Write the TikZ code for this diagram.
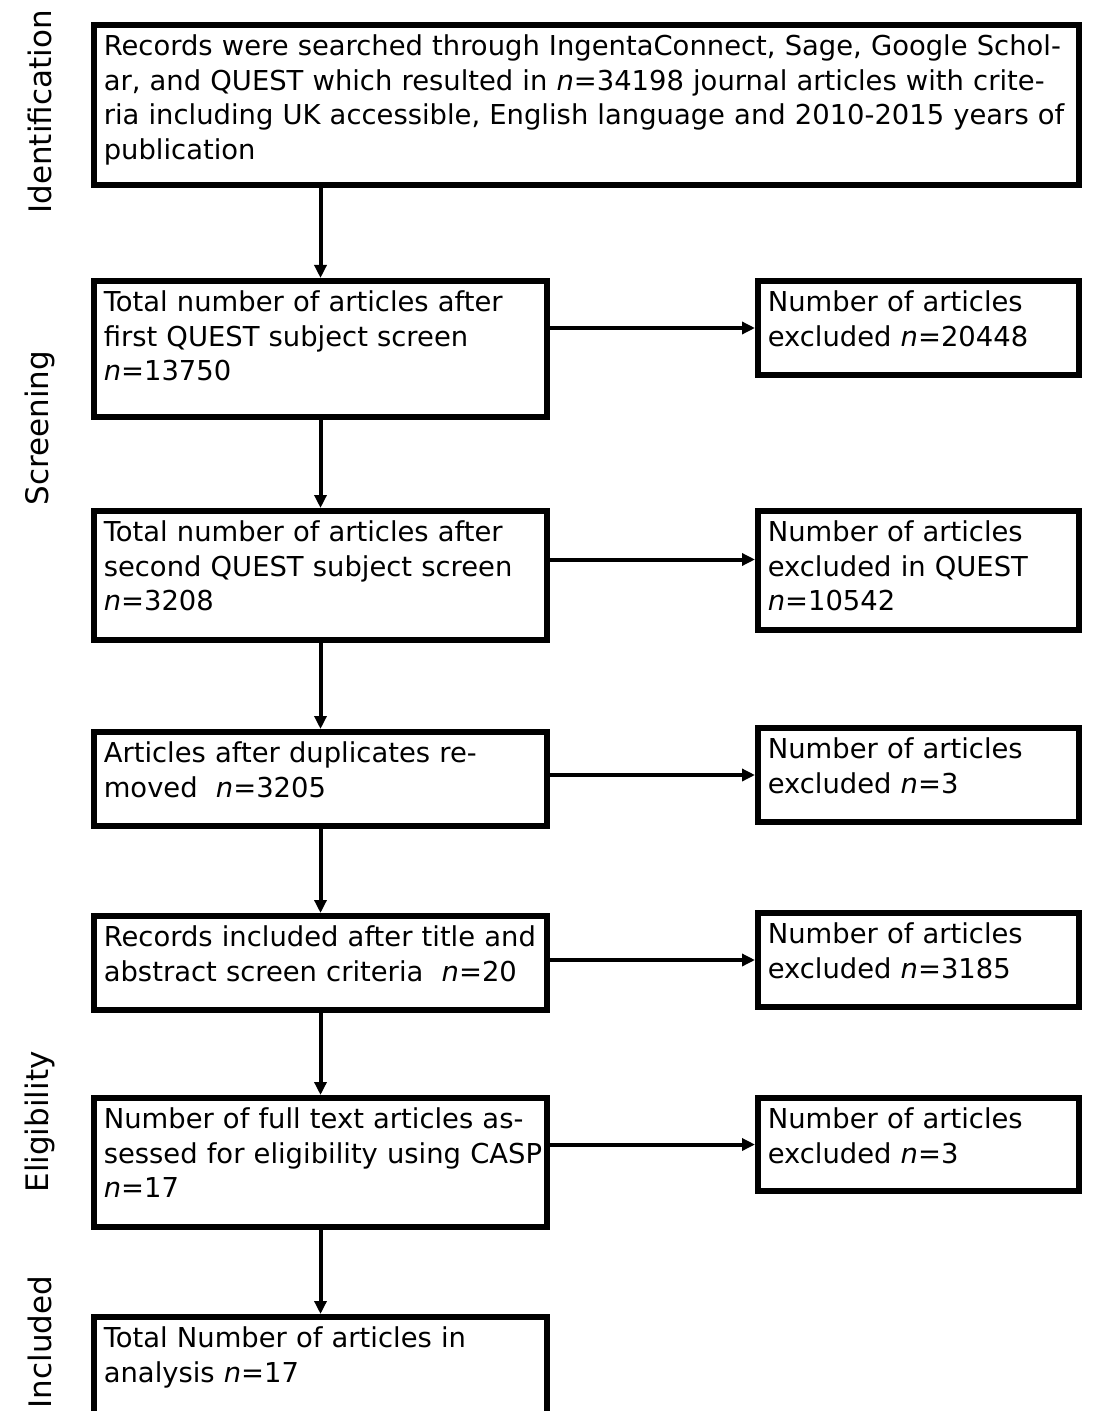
\documentclass[tikz,border=0pt]{standalone}
\usepackage{fontspec}
\setmainfont{DejaVu Sans}
\usetikzlibrary{arrows.meta}

\begin{document}
\begin{tikzpicture}[x=0.5pt, y=-0.5pt,
  box/.style={draw=black, line width=2.8pt, anchor=north west, align=left,
    inner xsep=5pt, inner ysep=0pt, text height=15.5pt,
    font=\fontsize{13.7}{17.25}\selectfont},
  wbox/.style={box, text width=482.7pt},
  lbox/.style={box, text width=216.7pt},
  rbox/.style={box, text width=150.7pt},
  arr/.style={line width=2pt, -{Triangle[length=6.5pt, width=6pt]}},
  phase/.style={rotate=90, font=\fontsize{15.5}{18}\selectfont}]
\useasboundingbox (0,0) rectangle (1094,1411);

\node[phase] (P1) at (40, 112) {Identification};
\node[phase] (P2) at (40, 428) {Screening};
\node[phase] (P3) at (40, 1122) {Eligibility};
\node[phase] (P4) at (40, 1342) {Included};

\node[wbox, text depth=64.7pt] (B1) at (91, 22) {Records were searched through IngentaConnect, Sage, Google Schol-\\ar, and QUEST which resulted in \textit{n}=34198 journal articles with crite-\\ria including UK accessible, English language and 2010-2015 years of\\publication};

\node[lbox, text depth=52.7pt] (L2) at (91, 278) {Total number of articles after\\first QUEST subject screen\\\textit{n}=13750};
\node[rbox, text depth=31.7pt] (R2) at (755, 278) {Number of articles\\excluded \textit{n}=20448};

\node[lbox, text depth=49.2pt] (L3) at (91, 508) {Total number of articles after\\second QUEST subject screen\\\textit{n}=3208};
\node[rbox, text depth=44.2pt] (R3) at (755, 508) {Number of articles\\excluded in QUEST\\\textit{n}=10542};

\node[lbox, text depth=31.7pt] (L4) at (91, 729) {Articles after duplicates re-\\moved~~\textit{n}=3205};
\node[rbox, text depth=31.7pt] (R4) at (755, 725) {Number of articles\\excluded \textit{n}=3};

\node[lbox, text depth=31.7pt] (L5) at (91, 913) {Records included after title and\\abstract screen criteria~~\textit{n}=20};
\node[rbox, text depth=31.7pt] (R5) at (755, 910) {Number of articles\\excluded \textit{n}=3185};

\node[lbox, text depth=49.2pt] (L6) at (91, 1095) {Number of full text articles as-\\\mbox{sessed for eligibility using CASP}\\\textit{n}=17};
\node[rbox, text depth=31.2pt] (R6) at (755, 1095) {Number of articles\\excluded \textit{n}=3};

\node[lbox, text depth=49.7pt] (L7) at (91, 1314) {Total Number of articles in\\analysis \textit{n}=17};

\draw[arr] (B1.south -| L2.north) -- (L2.north);
\draw[arr] (L2.south) -- (L3.north);
\draw[arr] (L3.south) -- (L4.north);
\draw[arr] (L4.south) -- (L5.north);
\draw[arr] (L5.south) -- (L6.north);
\draw[arr] (L6.south) -- (L7.north);

\draw[arr] (L2.east |- R2.west) -- (R2.west);
\draw[arr] ([yshift=5.5pt]L3.east |- R3.west) -- ([yshift=5.5pt]R3.west);
\draw[arr] (L4.east |- R4.west) -- (R4.west);
\draw[arr] (L5.east |- R5.west) -- (R5.west);
\draw[arr] (L6.east |- R6.west) -- (R6.west);
\end{tikzpicture}
\end{document}
